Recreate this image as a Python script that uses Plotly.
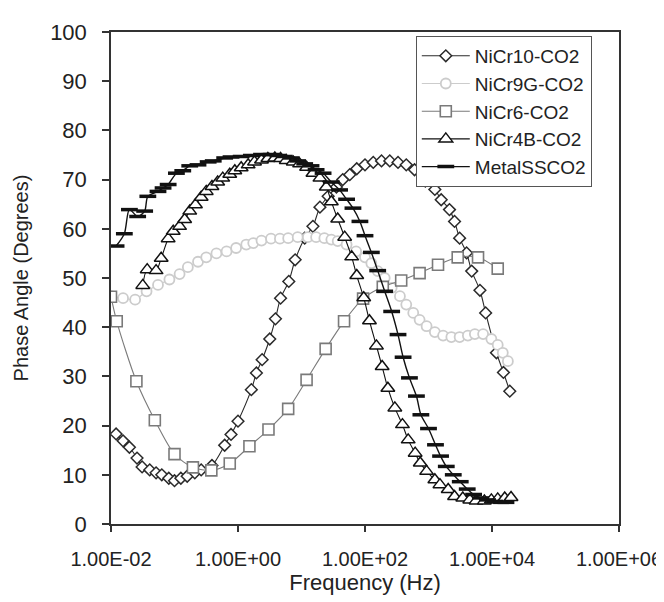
import plotly.graph_objects as go

# ---- data (log10 of frequency in Hz, phase angle in degrees) ----
nicr10_logf = [-1.92, -1.81, -1.71, -1.59, -1.51, -1.39, -1.29, -1.20, -1.09, -1.00,
               -0.90, -0.80, -0.68, -0.58, -0.41, -0.21, -0.11, 0.00, 0.21, 0.29,
               0.38, 0.50, 0.59, 0.67, 0.80, 0.90, 1.05, 1.18, 1.29, 1.42,
               1.55, 1.65, 1.76, 1.87, 2.00, 2.13, 2.26, 2.39, 2.52, 2.65,
               2.78, 2.95, 3.10, 3.20, 3.33, 3.41, 3.49, 3.60, 3.68, 3.81,
               3.90, 4.07, 4.18, 4.28]
nicr10_deg = [18.3, 16.9, 15.6, 13.4, 11.6, 11.0, 10.4, 10.0, 9.3, 8.8,
              9.3, 9.7, 10.4, 11.0, 11.9, 16.0, 18.2, 20.9, 27.3, 30.7,
              33.4, 37.6, 41.7, 45.9, 49.3, 53.7, 58.1, 60.5, 64.4, 66.6,
              68.5, 70.0, 71.0, 72.2, 73.0, 73.5, 73.8, 73.8, 73.5, 73.0,
              72.0, 69.7, 68.0, 65.9, 63.9, 61.5, 58.1, 55.1, 51.4, 47.5,
              42.9, 34.8, 30.8, 27.0]

nicr9g_logf = [-2.00, -1.81, -1.62, -1.44, -1.26, -1.08, -0.92, -0.79, -0.63, -0.50,
               -0.34, -0.18, -0.03, 0.13, 0.24, 0.37, 0.52, 0.66, 0.79, 0.94,
               1.10, 1.23, 1.36, 1.47, 1.57, 1.71, 1.86, 2.00, 2.10, 2.20,
               2.31, 2.42, 2.55, 2.65, 2.76, 2.86, 2.97, 3.10, 3.23, 3.36,
               3.49, 3.62, 3.73, 3.86, 3.99, 4.09, 4.17, 4.25]
nicr9g_deg = [46.3, 45.9, 45.6, 47.3, 48.6, 49.7, 50.8, 52.2, 53.3, 54.2,
              55.0, 55.4, 56.1, 56.8, 57.1, 57.6, 58.0, 58.0, 58.1, 58.3,
              58.3, 58.3, 58.1, 57.8, 57.5, 56.8, 55.4, 54.2, 53.0, 51.4,
              50.0, 48.0, 46.3, 44.6, 42.9, 41.5, 40.2, 39.0, 38.3, 38.0,
              38.0, 38.3, 38.6, 38.6, 37.6, 36.4, 34.8, 33.1]

nicr6_logf = [-2.00, -1.91, -1.60, -1.31, -1.00, -0.71, -0.42, -0.13, 0.18, 0.48,
              0.79, 1.08, 1.38, 1.67, 1.97, 2.28, 2.57, 2.86, 3.15, 3.46,
              3.78, 4.09]
nicr6_deg = [46.2, 41.2, 29.0, 21.1, 14.2, 11.5, 10.9, 12.3, 15.8, 19.2,
             23.4, 29.3, 35.6, 41.2, 45.8, 48.2, 49.5, 51.0, 52.7, 54.2,
             54.2, 51.9]

nicr4b_logf = [-1.50, -1.43, -1.29, -1.21, -1.10, -1.02, -0.92, -0.84, -0.76, -0.67,
               -0.58, -0.50, -0.41, -0.32, -0.24, -0.13, -0.05, 0.05, 0.16, 0.26,
               0.37, 0.47, 0.58, 0.67, 0.76, 0.87, 0.97, 1.08, 1.18, 1.29,
               1.39, 1.47, 1.57, 1.68, 1.79, 1.87, 1.98, 2.07, 2.18, 2.27,
               2.36, 2.47, 2.59, 2.68, 2.79, 2.87, 2.97, 3.10, 3.18, 3.31,
               3.41, 3.54, 3.65, 3.75, 3.88, 3.99, 4.09, 4.20, 4.30]
nicr4b_deg = [48.5, 51.7, 51.5, 54.0, 58.0, 59.5, 60.5, 61.9, 63.6, 64.9,
              66.4, 67.6, 68.6, 69.5, 70.3, 71.1, 71.8, 72.4, 73.0, 73.6,
              74.0, 74.3, 74.4, 74.3, 73.9, 73.6, 73.2, 72.5, 71.3, 70.3,
              68.5, 65.5, 62.0, 58.3, 54.3, 50.5, 46.0, 41.3, 36.2, 32.0,
              27.6, 23.6, 20.2, 17.1, 14.4, 12.4, 10.7, 9.0, 8.0, 7.0,
              5.6, 5.3, 4.9, 4.7, 4.7, 4.9, 5.1, 5.3, 5.4]

metal_logf = [-1.92, -1.79, -1.71, -1.58, -1.47, -1.42, -1.26, -1.18, -1.10, -0.97,
              -0.87, -0.76, -0.63, -0.47, -0.39, -0.21, -0.11, 0.05, 0.21, 0.37,
              0.52, 0.63, 0.73, 0.84, 0.94, 1.05, 1.15, 1.23, 1.34, 1.47,
              1.60, 1.71, 1.81, 1.92, 2.00, 2.10, 2.20, 2.31, 2.42, 2.52,
              2.60, 2.70, 2.81, 2.88, 3.00, 3.11, 3.19, 3.28, 3.39, 3.50,
              3.61, 3.71, 3.82, 3.93, 4.04, 4.15, 4.22]
metal_deg = [56.5, 59.0, 63.9, 62.5, 63.6, 66.6, 67.6, 68.3, 69.0, 71.3,
             71.8, 72.8, 73.0, 73.6, 73.8, 74.4, 74.6, 74.7, 74.9, 75.1,
             75.1, 74.9, 74.7, 74.4, 73.8, 73.2, 72.8, 72.0, 71.3, 69.5,
             67.9, 66.0, 64.2, 61.5, 58.6, 55.2, 51.5, 47.3, 43.2, 38.5,
             33.9, 29.7, 26.0, 22.2, 19.4, 16.1, 13.8, 11.7, 10.0, 8.6,
             7.1, 6.0, 5.3, 4.9, 4.6, 4.4, 4.4]

x_tickvals = [1e-2, 1e0, 1e2, 1e4, 1e6]
x_ticktext = ["1.00E-02", "1.00E+00", "1.00E+02", "1.00E+04", "1.00E+06"]

FONT = "Liberation Sans, Arial, sans-serif"

series = [
    ("NiCr10-CO2", nicr10_logf, nicr10_deg,
     dict(symbol="diamond", size=9, color="white", line=dict(color="#2a2a2a", width=1.5)),
     dict(color="#2a2a2a", width=1.1)),
    ("NiCr9G-CO2", nicr9g_logf, nicr9g_deg,
     dict(symbol="circle", size=10, color="white", line=dict(color="#cccccc", width=1.8)),
     dict(color="#cccccc", width=1.1)),
    ("NiCr6-CO2", nicr6_logf, nicr6_deg,
     dict(symbol="square", size=11, color="white", line=dict(color="#7a7a7a", width=1.6)),
     dict(color="#7a7a7a", width=1.1)),
    ("NiCr4B-CO2", nicr4b_logf, nicr4b_deg,
     dict(symbol="triangle-up", size=12, color="white", line=dict(color="#111111", width=1.5)),
     dict(color="#111111", width=1.1)),
    ("MetalSSCO2", metal_logf, metal_deg,
     dict(symbol="line-ew", size=12, color="#111111", line=dict(color="#111111", width=3.5)),
     dict(color="#111111", width=1.4)),
]

fig = go.Figure()
for name, lf, deg, mk, ln in series:
    fig.add_trace(go.Scatter(
        x=[10 ** v for v in lf], y=deg, name=name,
        mode="lines+markers", marker=mk,
        line=dict(shape="spline", smoothing=0.8, **ln),
    ))

fig.update_layout(
    width=664, height=602,
    margin=dict(l=103, r=53, t=24, b=86, autoexpand=False),
    paper_bgcolor="white", plot_bgcolor="white",
    font=dict(family=FONT, size=21, color="#222222"),
    legend=dict(
        x=0.6, y=0.992, xanchor="left", yanchor="top",
        bgcolor="white", bordercolor="#555555", borderwidth=1,
        font=dict(size=19, color="#222222"),
        tracegroupgap=0, itemwidth=48,
    ),
    showlegend=True,
)
fig.update_xaxes(
    type="log", range=[-2, 6], automargin=False,
    tickvals=x_tickvals, ticktext=x_ticktext, tickfont=dict(size=20),
    ticks="outside", ticklen=6, tickcolor="#333333", tickwidth=1.5,
    showline=True, linecolor="#333333", linewidth=1.5, mirror=True,
    showgrid=False, zeroline=False,
    title=dict(text="Frequency (Hz)", standoff=6, font=dict(size=22)),
    ticklabelstandoff=10,
)
fig.update_yaxes(
    range=[0, 100], dtick=10, tick0=0, automargin=False,
    tickfont=dict(size=22),
    ticks="outside", ticklen=7, tickcolor="#333333", tickwidth=1.5,
    showline=True, linecolor="#333333", linewidth=1.5, mirror=True,
    showgrid=False, zeroline=False,
    title=dict(text="Phase Angle (Degrees)", standoff=16, font=dict(size=20)),
    ticklabelstandoff=11,
)

fig.write_html("out.html")
